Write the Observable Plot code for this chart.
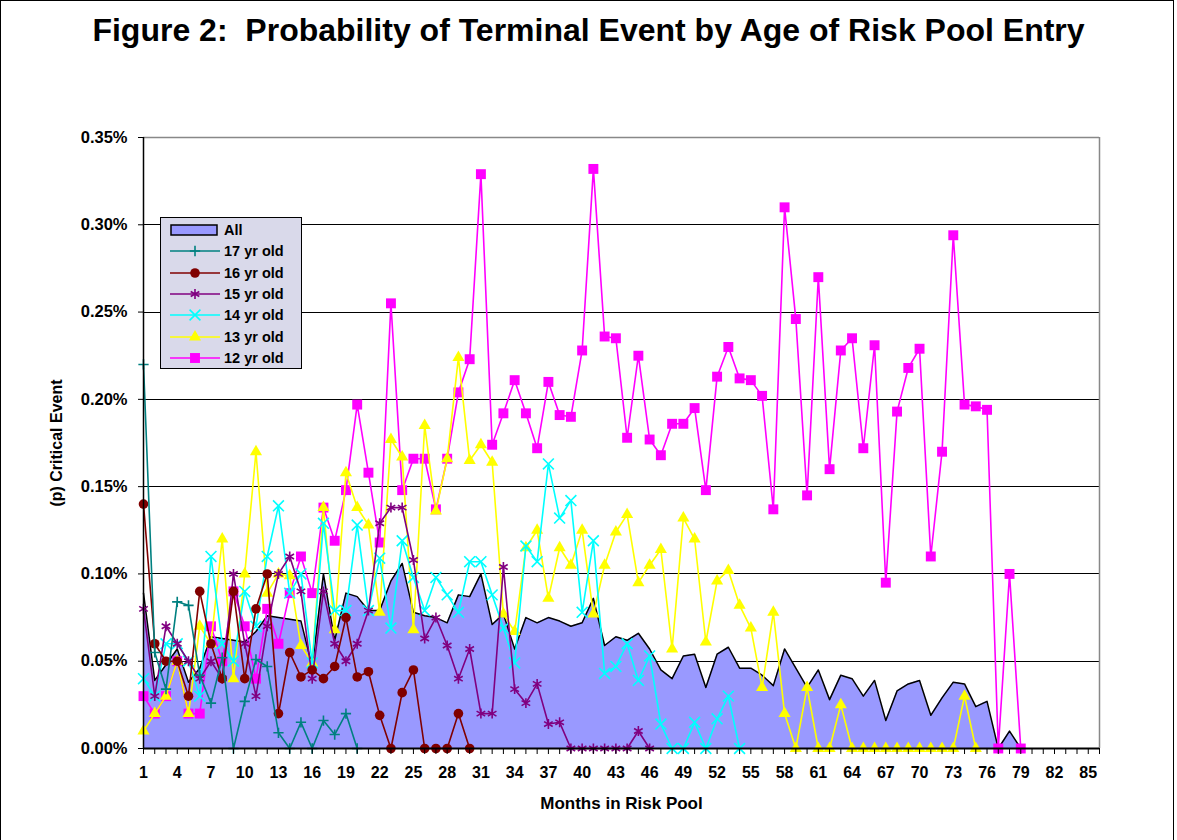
<!DOCTYPE html>
<html><head><meta charset="utf-8">
<script src="https://cdn.jsdelivr.net/npm/d3@7"></script>
<script src="https://cdn.jsdelivr.net/npm/@observablehq/plot@0.6"></script>
<style>
body{margin:0;background:#fff;}
#wrap{position:relative;width:1177px;height:840px;overflow:hidden;font-family:"Liberation Sans",Arial,sans-serif;}
#chart{position:absolute;left:0;top:0;}
#frame{position:absolute;left:0;top:0;width:1174px;height:860px;border:1px solid #000;box-sizing:border-box;pointer-events:none;}
#title{position:absolute;top:12px;left:0;width:1177px;text-align:center;font-weight:bold;font-size:32px;white-space:pre;color:#000;}
#legend{position:absolute;left:160px;top:217px;width:142px;height:152px;background:#d9d9ea;border:1px solid #000;box-sizing:border-box;}
.li{position:absolute;left:8px;height:20px;display:flex;align-items:center;font-weight:bold;font-size:14.5px;}
.li svg{margin-right:3px;}
</style></head>
<body><div id="wrap"><div id="chart"></div><div id="frame"></div><div id="title">Figure 2:  Probability of Terminal Event by Age of Risk Pool Entry</div><div id="legend"></div></div>
<script>
// ---- data (values in %) ----
const monthTicks = d3.range(1, 87);
const monthLabels = d3.range(1, 86, 3);
const yTicks = [0, 0.05, 0.10, 0.15, 0.20, 0.25, 0.30, 0.35];

const allAges = [0.089,0.039,0.048,0.057,0.038,0.046,0.064,0.063,0.062,0.061,0.067,0.076,0.075,0.074,0.073,0.047,0.100,0.062,0.089,0.087,0.079,0.079,0.096,0.106,0.078,0.076,0.075,0.072,0.088,0.087,0.100,0.071,0.077,0.057,0.075,0.072,0.075,0.073,0.070,0.072,0.086,0.059,0.064,0.062,0.066,0.057,0.045,0.040,0.053,0.054,0.035,0.054,0.058,0.046,0.046,0.042,0.036,0.057,0.046,0.035,0.045,0.028,0.042,0.040,0.030,0.039,0.016,0.033,0.037,0.039,0.019,0.029,0.038,0.037,0.024,0.027,0,0.010,0];
const yr17 = [0.22,0.055,0.034,0.084,0.082,0.042,0.026,0.052,0,0.027,0.051,0.047,0.009,0,0.015,0,0.016,0.008,0.020,0];
const yr16 = [0.14,0.06,0.05,0.05,0.03,0.09,0.06,0.04,0.09,0.04,0.08,0.10,0.02,0.055,0.041,0.045,0.040,0.047,0.075,0.041,0.044,0.019,0,0.032,0.045,0,0,0,0.020,0];
const yr15 = [0.08,0.03,0.07,0.06,0.05,0.04,0.05,0.04,0.10,0.06,0.03,0.07,0.10,0.11,0.09,0.04,0.09,0.06,0.05,0.06,0.079,0.129,0.138,0.138,0.108,0.063,0.075,0.059,0.040,0.057,0.020,0.020,0.104,0.034,0.026,0.037,0.014,0.015,0,0,0,0,0,0,0.010,0];
const yr14 = [0.04,0.03,0.06,0.06,0.05,0.03,0.11,0.06,0.05,0.09,0.07,0.11,0.139,0.089,0.10,0.049,0.129,0.079,0.079,0.128,0.079,0.109,0.069,0.119,0.098,0.079,0.098,0.088,0.078,0.107,0.107,0.088,0.069,0.049,0.116,0.107,0.163,0.132,0.142,0.078,0.119,0.043,0.047,0.060,0.039,0.053,0.014,0,0,0.015,0,0.017,0.030,0];
const yr13 = [0.01,0.02,0.03,0.05,0.02,0.07,0.06,0.12,0.04,0.10,0.17,0.089,0.10,0.099,0.059,0.049,0.138,0.068,0.158,0.138,0.128,0.078,0.177,0.167,0.068,0.185,0.136,0.166,0.224,0.165,0.174,0.164,0.077,0.067,0.115,0.125,0.086,0.115,0.105,0.125,0.077,0.105,0.124,0.134,0.095,0.105,0.114,0.057,0.132,0.120,0.061,0.096,0.102,0.082,0.069,0.035,0.078,0.020,0,0.035,0,0,0.025,0,0,0,0,0,0,0,0,0,0,0.030,0];
const yr12 = [0.03,0.02,0.03,0.05,0.02,0.02,0.07,0.05,0.09,0.07,0.04,0.08,0.06,0.089,0.11,0.089,0.138,0.119,0.148,0.197,0.158,0.118,0.255,0.148,0.166,0.166,0.137,0.166,0.204,0.223,0.329,0.174,0.192,0.211,0.192,0.172,0.210,0.191,0.190,0.228,0.332,0.236,0.235,0.178,0.225,0.177,0.168,0.186,0.186,0.195,0.148,0.213,0.230,0.212,0.211,0.202,0.137,0.310,0.246,0.145,0.270,0.160,0.228,0.235,0.172,0.231,0.095,0.193,0.218,0.229,0.110,0.170,0.294,0.197,0.196,0.194,0,0.100,0];

// ---- styling of series ----
const series = [
  {name:"12 yr old", vals:yr12, color:"#ff00ff", symbol:"square",   r:5.6, fill:true},
  {name:"13 yr old", vals:yr13, color:"#ffff00", symbol:"triangle", r:4.5, fill:true},
  {name:"14 yr old", vals:yr14, color:"#00ffff", symbol:"times",    r:5.0, fill:false},
  {name:"15 yr old", vals:yr15, color:"#800080", symbol:"asterisk", r:4.7, fill:false},
  {name:"16 yr old", vals:yr16, color:"#800000", symbol:"circle",   r:4.8, fill:true},
  {name:"17 yr old", vals:yr17, color:"#008080", symbol:"plus",     r:3.4, fill:false}
];
const rows = vals => vals.map((v, i) => ({m: i + 1, v}));

const marks = [
  Plot.ruleY(yTicks.slice(1, 7), {stroke:"#000", strokeWidth:1, shapeRendering:"crispEdges"}),
  Plot.ruleY([0.35], {stroke:"#888", strokeWidth:1.5}),
  Plot.ruleX([86], {stroke:"#888", strokeWidth:1.5}),
  Plot.areaY(rows(allAges), {x:"m", y:"v", fill:"#9999ff"}),
  Plot.lineY(rows(allAges), {x:"m", y:"v", stroke:"#000", strokeWidth:1.5})
];
for (const s of series) {
  const d = rows(s.vals);
  marks.push(Plot.lineY(d, {x:"m", y:"v", stroke:s.color, strokeWidth:1.6}));
  marks.push(Plot.dot(d, s.fill
    ? {x:"m", y:"v", symbol:s.symbol, r:s.r, fill:s.color, stroke:"none"}
    : {x:"m", y:"v", symbol:s.symbol, r:s.r, fill:"none", stroke:s.color, strokeWidth:1.6}));
}
marks.push(
  Plot.ruleX([1], {y1:0, y2:0.35, stroke:"#000", strokeWidth:1.5}),
  Plot.ruleY([0], {stroke:"#000", strokeWidth:2}),
  Plot.axisX({ticks: monthTicks, tickSize:6, tickPadding:12, fontSize:16,
    tickFormat: d => monthLabels.includes(d) ? String(d) : "",
    label:null}),
  Plot.axisX({ticks: [], label:"Months in Risk Pool", labelAnchor:"center", labelArrow:"none",
    labelOffset:60, fontSize:17}),
  Plot.axisY({ticks: yTicks, tickSize:5, tickPadding:11, fontSize:16.5,
    tickFormat: d => d.toFixed(2) + "%", label:null}),
  Plot.axisY({ticks: [], label:"(p) Critical Event", labelAnchor:"center", labelArrow:"none",
    labelOffset:93, fontSize:16})
);

const chart = Plot.plot({
  width:1177, height:840,
  marginLeft:143, marginRight:78, marginTop:137, marginBottom:92,
  x:{type:"linear", domain:[1, 86]},
  y:{type:"linear", domain:[0, 0.35]},
  style:{fontFamily:"'Liberation Sans', Arial, sans-serif", fontSize:"15px", fontWeight:"bold", color:"#000", background:"transparent"},
  marks
});
document.getElementById("chart").appendChild(chart);

// ---- legend ----
const legend = document.getElementById("legend");
const items = [{name:"All", area:true}].concat(series.slice().reverse());
items.forEach((it, i) => {
  const div = document.createElement("div");
  div.className = "li";
  div.style.top = (2 + i * 21.3) + "px";
  const sw = d3.create("svg").attr("width", 52).attr("height", 20);
  if (it.area) {
    sw.append("rect").attr("x", 2).attr("y", 5).attr("width", 46).attr("height", 10)
      .attr("fill", "#9999ff").attr("stroke", "#000").attr("stroke-width", 1.5);
  } else {
    sw.append("line").attr("x1", 1).attr("x2", 51).attr("y1", 10).attr("y2", 10)
      .attr("stroke", it.color).attr("stroke-width", 1.6);
    const symMap = {square:d3.symbolSquare, triangle:d3.symbolTriangle, times:d3.symbolTimes,
                    asterisk:d3.symbolAsterisk, circle:d3.symbolCircle, plus:d3.symbolPlus};
    const p = d3.symbol(symMap[it.symbol], Math.PI * it.r * it.r)();
    sw.append("path").attr("d", p).attr("transform", "translate(26,10)")
      .attr("fill", it.fill ? it.color : "none").attr("stroke", it.fill ? "none" : it.color)
      .attr("stroke-width", 1.6);
  }
  div.appendChild(sw.node());
  const t = document.createElement("span");
  t.textContent = it.name;
  div.appendChild(t);
  legend.appendChild(div);
});
</script>
</body></html>
